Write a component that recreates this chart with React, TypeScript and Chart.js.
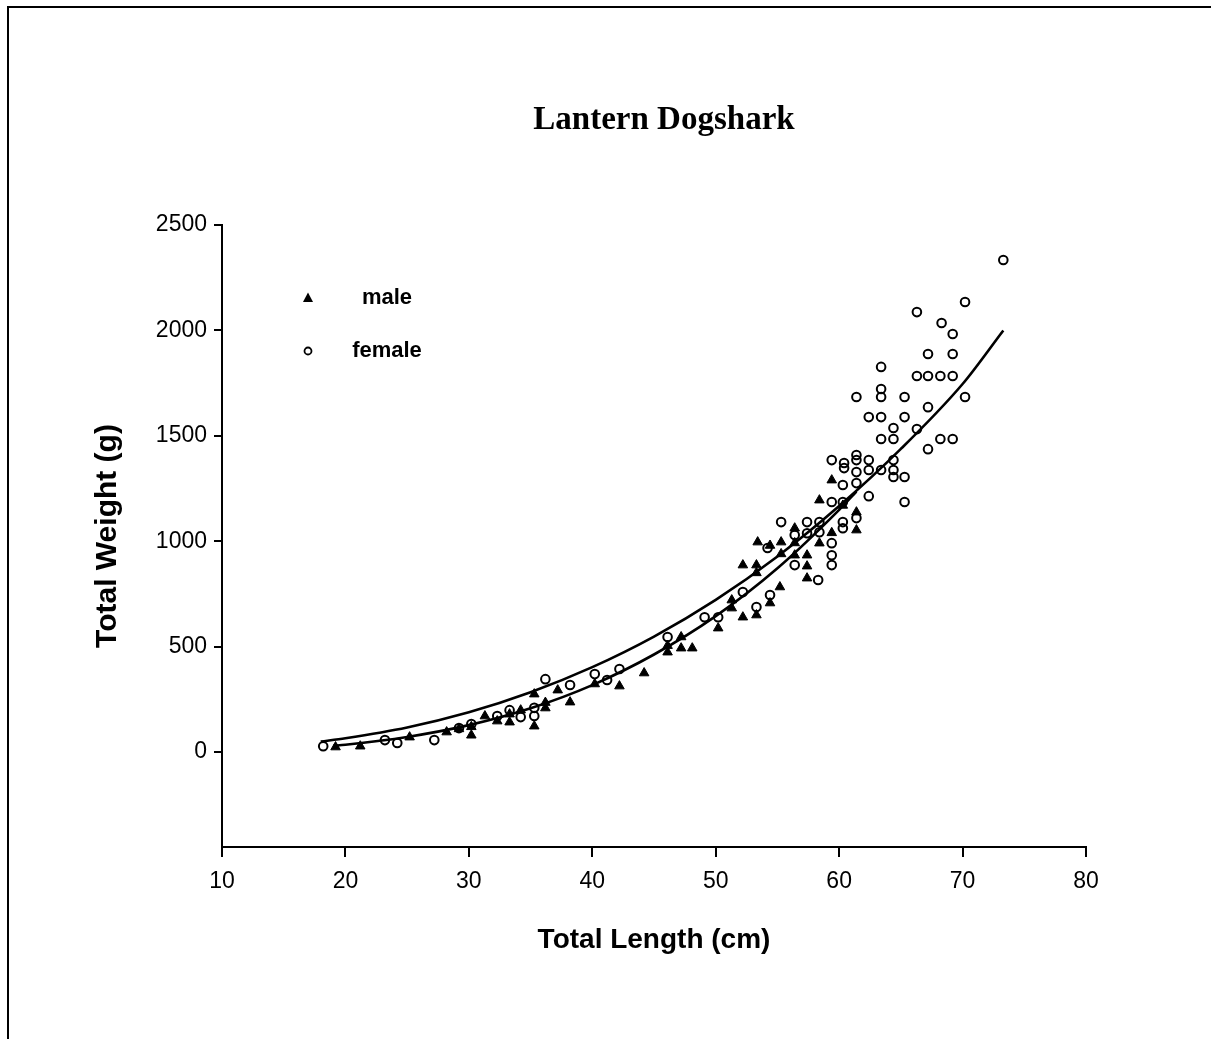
import { useEffect, useRef } from "react";
import { Chart, registerables } from "chart.js";

Chart.register(...registerables);

const chartTitle = "Lantern Dogshark";
const xAxisTitle = "Total Length (cm)";
const yAxisTitle = "Total Weight (g)";
const xTickValues = [10, 20, 30, 40, 50, 60, 70, 80];
const yTickValues = [0, 500, 1000, 1500, 2000, 2500];
const xMin = 10;
const xMax = 80;
const yMin = -450;
const yMax = 2500;

// [length cm, weight g]
const malePoints: [number, number][] = [
  [19.2, 24], [21.2, 28], [25.2, 71], [28.2, 95], [29.2, 110], [30.2, 80], [30.2, 120],
  [31.3, 171], [32.3, 147], [33.3, 142], [33.3, 180], [34.2, 199], [35.3, 275], [35.3, 123],
  [36.2, 209], [36.2, 235], [37.2, 294], [38.2, 237], [40.2, 323], [42.2, 313], [44.2, 375],
  [46.1, 474], [46.1, 505], [47.2, 546], [47.2, 493], [48.1, 493], [50.2, 588], [51.3, 683],
  [51.3, 721], [52.2, 640], [52.2, 887], [53.3, 650], [53.3, 887], [53.3, 850], [53.4, 996],
  [54.4, 707], [54.4, 980], [55.2, 783], [55.3, 996], [55.3, 940], [56.4, 1062], [56.4, 992],
  [56.4, 934], [57.4, 934], [57.4, 825], [57.4, 882], [58.4, 1195], [58.4, 991], [59.4, 1290],
  [59.4, 1040], [60.3, 1170], [61.4, 1138], [61.4, 1053],
];

const femalePoints: [number, number][] = [
  [18.2, 28], [23.2, 57], [24.2, 43], [27.2, 57], [29.2, 114], [30.2, 133], [32.3, 171],
  [33.3, 199], [34.2, 166], [35.3, 171], [35.3, 210], [36.2, 346], [38.2, 318], [40.2, 370],
  [41.2, 342], [42.2, 394], [46.1, 546], [49.1, 640], [50.2, 640], [52.2, 759], [53.3, 688],
  [54.2, 968], [54.4, 745], [55.3, 1091], [56.4, 1030], [56.4, 887], [57.4, 1091], [57.4, 1038],
  [58.3, 816], [58.4, 1091], [58.4, 1043], [59.4, 1186], [59.4, 991], [59.4, 934], [59.4, 887],
  [59.4, 1385], [60.3, 1267], [60.3, 1186], [60.3, 1091], [60.3, 1062], [60.4, 1371], [60.4, 1347],
  [61.4, 1110], [61.4, 1409], [61.4, 1385], [61.4, 1328], [61.4, 1276], [61.4, 1684], [62.4, 1589],
  [62.4, 1385], [62.4, 1338], [62.4, 1214], [63.4, 1827], [63.4, 1722], [63.4, 1684], [63.4, 1589],
  [63.4, 1485], [63.4, 1338], [64.4, 1537], [64.4, 1485], [64.4, 1385], [64.4, 1338], [64.4, 1305],
  [65.3, 1684], [65.3, 1589], [65.3, 1305], [65.3, 1186], [66.3, 2087], [66.3, 1784], [66.3, 1532],
  [67.2, 1888], [67.2, 1784], [67.2, 1636], [67.2, 1437], [68.3, 2035], [68.2, 1784], [68.2, 1485],
  [69.2, 1983], [69.2, 1888], [69.2, 1784], [69.2, 1485], [70.2, 2135], [70.2, 1684], [73.3, 2334],
];

// fitted curves
const upperCurve: [number, number][] = [
  [18, 50], [20, 66], [25, 117], [30, 189], [35, 284], [40, 403], [45, 548],
  [50, 722], [55, 928], [60, 1167], [65, 1438], [70, 1746], [73.3, 2000],
];
const lowerCurve: [number, number][] = [
  [19, 30], [20, 35], [25, 72], [30, 128], [35, 208], [40, 318], [45, 463],
  [50, 645], [55, 872], [60, 1149], [61.4, 1236],
];

const toXY = (arr: [number, number][]) => arr.map(([x, y]) => ({ x, y }));

const framePlugin = {
  id: "frame",
  beforeDraw(chart: any) {
    const { ctx } = chart;
    ctx.save();
    ctx.fillStyle = "#ffffff";
    ctx.fillRect(0, 0, chart.width, chart.height);
    ctx.strokeStyle = "#000";
    ctx.lineWidth = 2;
    ctx.beginPath();
    ctx.moveTo(8, 1039);
    ctx.lineTo(8, 7);
    ctx.lineTo(1211, 7);
    ctx.stroke();
    ctx.fillStyle = "#000";
    ctx.font = "bold 33px 'Liberation Serif', serif";
    ctx.textAlign = "center";
    ctx.textBaseline = "middle";
    ctx.fillText(chartTitle, 664, 120);
    ctx.restore();
  },
};

const legendPlugin = {
  id: "customLegend",
  afterDraw(chart: any) {
    const { ctx } = chart;
    const items = [
      { ds: chart.data.datasets[0], y: 298 },
      { ds: chart.data.datasets[1], y: 351 },
    ];
    ctx.save();
    ctx.font = "bold 22px 'Liberation Sans', Arial, sans-serif";
    ctx.textAlign = "center";
    ctx.textBaseline = "middle";
    ctx.fillStyle = "#000";
    ctx.strokeStyle = "#000";
    items.forEach(({ ds, y }) => {
      if (ds.pointStyle === "triangle") {
        ctx.beginPath();
        ctx.moveTo(308, y - 5.5);
        ctx.lineTo(313, y + 4);
        ctx.lineTo(303, y + 4);
        ctx.closePath();
        ctx.fill();
      } else {
        ctx.lineWidth = 1.8;
        ctx.beginPath();
        ctx.arc(308, y, 3.5, 0, Math.PI * 2);
        ctx.stroke();
      }
      ctx.fillText(ds.label, 387, y);
    });
    ctx.restore();
  },
};

export default function App() {
  const canvasRef = useRef<HTMLCanvasElement | null>(null);

  useEffect(() => {
    if (!canvasRef.current) return;
    const tickFont = { family: "'Liberation Sans', Arial, sans-serif", size: 23 };
    const xTitleFont = { family: "'Liberation Sans', Arial, sans-serif", size: 28, weight: "bold" as const };
    const yTitleFont = { family: "'Liberation Sans', Arial, sans-serif", size: 30, weight: "bold" as const };
    const chart = new Chart(canvasRef.current, {
      type: "scatter",
      data: {
        datasets: [
          {
            label: "male",
            data: toXY(malePoints),
            pointStyle: "triangle",
            pointRadius: 5.5,
            backgroundColor: "#000",
            borderColor: "#000",
            borderWidth: 1,
          },
          {
            label: "female",
            data: toXY(femalePoints),
            pointStyle: "circle",
            pointRadius: 4.3,
            backgroundColor: "rgba(0,0,0,0)",
            borderColor: "#000",
            borderWidth: 2,
          },
          {
            label: "fit upper",
            data: toXY(upperCurve),
            showLine: true,
            pointRadius: 0,
            borderColor: "#000",
            borderWidth: 2.6,
            cubicInterpolationMode: "monotone",
          },
          {
            label: "fit lower",
            data: toXY(lowerCurve),
            showLine: true,
            pointRadius: 0,
            borderColor: "#000",
            borderWidth: 2.6,
            cubicInterpolationMode: "monotone",
          },
        ],
      },
      options: {
        responsive: false,
        animation: false,
        events: [],
        layout: { padding: { left: 90, top: 225, right: 125, bottom: 82 } },
        plugins: {
          legend: { display: false },
          title: { display: false },
          tooltip: { enabled: false },
        },
        scales: {
          x: {
            type: "linear",
            min: xMin,
            max: xMax,
            afterFit: (scale: any) => {
              scale.height = 110;
            },
            afterBuildTicks: (scale: any) => {
              scale.ticks = xTickValues.map((v) => ({ value: v }));
            },
            grid: {
              drawOnChartArea: false,
              drawTicks: true,
              tickLength: 10,
              color: "#000",
              lineWidth: 2,
            },
            border: { display: true, color: "#000", width: 2 },
            ticks: {
              color: "#000",
              font: tickFont,
              padding: 11,
              maxRotation: 0,
              callback: (v: any) => String(v),
            },
            title: {
              display: true,
              text: xAxisTitle,
              color: "#000",
              font: xTitleFont,
              padding: { top: 0, bottom: 0 },
            },
          },
          y: {
            type: "linear",
            min: yMin,
            max: yMax,
            afterFit: (scale: any) => {
              scale.width = 132;
            },
            afterBuildTicks: (scale: any) => {
              scale.ticks = yTickValues.map((v) => ({ value: v }));
            },
            grid: {
              drawOnChartArea: false,
              drawTicks: true,
              tickLength: 8,
              color: "#000",
              lineWidth: 2,
            },
            border: { display: true, color: "#000", width: 2 },
            ticks: { color: "#000", font: tickFont, padding: 7, callback: (v: any) => String(v) },
            title: {
              display: true,
              text: yAxisTitle,
              color: "#000",
              font: yTitleFont,
              padding: { top: 0, bottom: 0 },
            },
          },
        },
      },
      plugins: [framePlugin, legendPlugin],
    });
    return () => chart.destroy();
  }, []);

  return (
    <div style={{ position: "absolute", left: 0, top: 0, width: 1211, height: 1039, background: "#fff" }}>
      <canvas ref={canvasRef} width={1211} height={1039} style={{ display: "block" }} />
    </div>
  );
}
